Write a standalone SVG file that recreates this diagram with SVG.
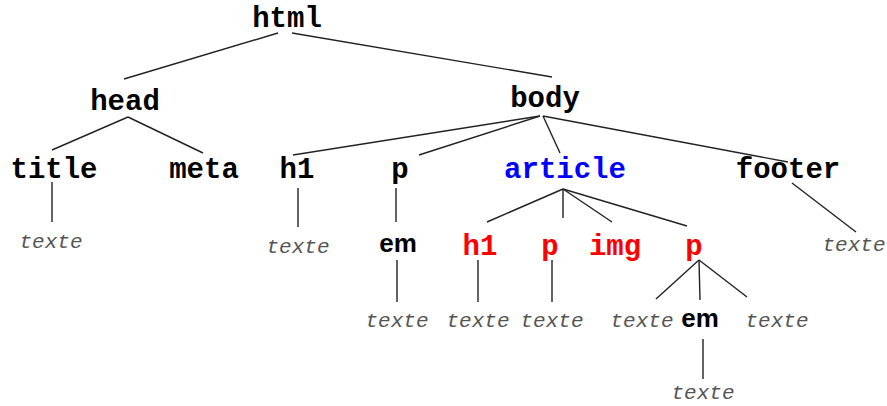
<svg xmlns="http://www.w3.org/2000/svg" width="887" height="406" viewBox="0 0 887 406">
<style>
.tag{font-family:"Liberation Mono","Courier New",monospace;font-weight:bold;font-size:29px;text-anchor:middle;fill:#000}
.blue{fill:#0000ff}
.red{fill:#ff0000}
.txt{font-family:"Liberation Mono","Courier New",monospace;font-style:italic;font-size:21px;text-anchor:middle;fill:#555}
.em{font-family:"Liberation Sans",Arial,sans-serif;font-weight:bold;font-size:26px;text-anchor:middle;fill:#000}
.edges line{stroke:#222;stroke-width:1.4}
</style>
<rect width="887" height="406" fill="#fff"/>
<g class="edges" id="connectors">
<line x1="278" y1="33" x2="124" y2="79"/>
<line x1="292" y1="33" x2="552" y2="77"/>
<line x1="128" y1="117" x2="52" y2="150"/>
<line x1="128" y1="117" x2="203" y2="153"/>
<line x1="540" y1="116" x2="293" y2="155"/>
<line x1="540" y1="116" x2="419" y2="155"/>
<line x1="543" y1="116" x2="560" y2="153"/>
<line x1="543" y1="116" x2="788" y2="162"/>
<line x1="52" y1="182" x2="52" y2="222"/>
<line x1="298" y1="188" x2="298" y2="227"/>
<line x1="396" y1="188" x2="396" y2="222"/>
<line x1="397" y1="260" x2="397" y2="302"/>
<line x1="792" y1="183" x2="856" y2="232"/>
<line x1="563" y1="189" x2="487" y2="222"/>
<line x1="563" y1="189" x2="563" y2="218"/>
<line x1="563" y1="189" x2="612" y2="222"/>
<line x1="563" y1="189" x2="687" y2="226"/>
<line x1="478" y1="260" x2="478" y2="302"/>
<line x1="552" y1="260" x2="552" y2="302"/>
<line x1="699" y1="260" x2="656" y2="299"/>
<line x1="699" y1="260" x2="700" y2="300"/>
<line x1="699" y1="260" x2="747" y2="297"/>
<line x1="703" y1="339" x2="703" y2="379"/>
</g>
<g id="n-html"><text class="tag" x="287" y="27">html</text></g>
<g id="n-head"><text class="tag" x="125" y="110">head</text></g>
<g id="n-body"><text class="tag" x="545" y="107">body</text></g>
<g id="n-title"><text class="tag" x="54" y="178">title</text></g>
<g id="n-meta"><text class="tag" x="204" y="178">meta</text></g>
<g id="n-h1"><text class="tag" x="297" y="178">h1</text></g>
<g id="n-p"><text class="tag" x="400" y="178">p</text></g>
<g id="n-article"><text class="tag blue" x="565" y="178">article</text></g>
<g id="n-footer"><text class="tag" x="788" y="178">footer</text></g>
<g id="n-title-text"><text class="txt" x="51" y="248">texte</text></g>
<g id="n-h1-text"><text class="txt" x="298" y="253">texte</text></g>
<g id="n-p-em"><text class="em" x="398" y="252">em</text></g>
<g id="n-em-text"><text class="txt" x="397" y="327">texte</text></g>
<g id="n-footer-text"><text class="txt" x="854" y="251">texte</text></g>
<g id="n-a-h1"><text class="tag red" x="480" y="255">h1</text></g>
<g id="n-a-p"><text class="tag red" x="550" y="255">p</text></g>
<g id="n-a-img"><text class="tag red" x="615" y="255">img</text></g>
<g id="n-a-p2"><text class="tag red" x="694" y="255">p</text></g>
<g id="n-a-h1-text"><text class="txt" x="478" y="327">texte</text></g>
<g id="n-a-p-text"><text class="txt" x="552" y="327">texte</text></g>
<g id="n-p2-text1"><text class="txt" x="642" y="327">texte</text></g>
<g id="n-p2-em"><text class="em" x="700" y="327">em</text></g>
<g id="n-p2-text2"><text class="txt" x="777" y="327">texte</text></g>
<g id="n-em2-text"><text class="txt" x="703" y="399">texte</text></g>
</svg>
